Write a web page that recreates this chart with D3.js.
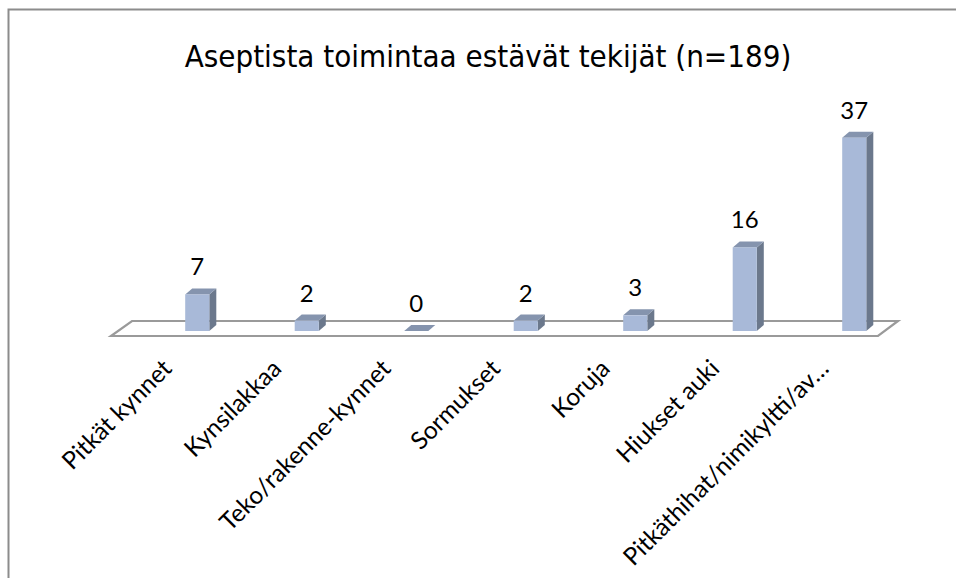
<!DOCTYPE html>
<html>
<head>
<meta charset="utf-8">
<script src="https://cdn.jsdelivr.net/npm/d3@7"></script>
<style>
  body { margin: 0; background: #fff; overflow: hidden; }
  svg { display: block; }
</style>
</head>
<body>
<div id="chart"></div>
<script>
// Data
var categories = ["Pitkät kynnet", "Kynsilakkaa", "Teko/rakenne-kynnet", "Sormukset",
                  "Koruja", "Hiukset auki", "Pitkäthihat/nimikyltti/av…"];
var values = [7, 2, 0, 2, 3, 16, 37];
var chartTitle = "Aseptista toimintaa estävät tekijät (n=189)";

var width = 956,
    height = 578,
    depthX = 7,
    depthY = -6;

var svg = d3.select("#chart").append("svg")
    .attr("width", width)
    .attr("height", height);

// chart area border (only top and left edges are inside the picture)
svg.append("path")
    .attr("d", "M8.5," + height + "V9.5H" + width)
    .attr("fill", "none")
    .attr("stroke", "#8c8c8c")
    .attr("stroke-width", 2);

svg.append("text")
    .attr("x", 488).attr("y", 67)
    .attr("text-anchor", "middle")
    .style("font-family", "'DejaVu Sans Condensed', 'DejaVu Sans', sans-serif")
    .style("font-size", "31px")
    .attr("fill", "#000")
    .text(chartTitle);

var x = d3.scaleBand()
    .domain(categories)
    .range([142.5, 909]);

var y = d3.scaleLinear()
    .domain([0, 40])
    .range([331, 122]);

var barW = x.bandwidth() * 0.22;

/** Floor of the 3D plot */
var x0 = x.range()[0], x1 = x.range()[1], base = y(0);
svg.append("path")
    .attr("d", "M" + (x0 - 31.5) + "," + (base + 5) +
               "L" + (x1 - 31) + "," + (base + 5) +
               "L" + (x1 - 11) + "," + (base - 10) +
               "L" + (x0 - 10.5) + "," + (base - 10) + "Z")
    .attr("fill", "#fff")
    .attr("stroke", "#9a9a9a")
    .attr("stroke-width", 2.2)
    .attr("stroke-linejoin", "miter");

var bar = svg.selectAll(".bar")
    .data(values)
    .enter().append("g")
    .attr("class", "bar")
    .attr("transform", function(d, i) {
        return "translate(" + (x(categories[i]) + x.bandwidth() / 2 - barW / 2) + ",0)";
    });

// side face
bar.append("path")
    .attr("d", function(d) {
        return "M" + barW + "," + y(d) + "l" + depthX + "," + depthY +
               "L" + (barW + depthX) + "," + (base + depthY) + "L" + barW + "," + base + "Z";
    })
    .attr("fill", "#6b788c");

// top face
bar.append("path")
    .attr("d", function(d) {
        return "M0," + y(d) + "l" + depthX + "," + depthY + "h" + barW + "l" + (-depthX) + "," + (-depthY) + "Z";
    })
    .attr("fill", "#8594ae");

// front face
bar.append("rect")
    .attr("x", 0)
    .attr("y", function(d) { return y(d); })
    .attr("width", barW)
    .attr("height", function(d) { return base - y(d); })
    .attr("fill", "#a8b9d8");

// value labels
bar.append("text")
    .attr("x", barW / 2)
    .attr("y", function(d) { return y(d) - 19; })
    .attr("text-anchor", "middle")
    .style("font-family", "Lato, 'Open Sans', sans-serif")
    .style("font-size", "24px")
    .attr("fill", "#000")
    .text(function(d) { return d; });

// category labels, rotated
svg.selectAll(".catLabel")
    .data(categories)
    .enter().append("text")
    .attr("class", "catLabel")
    .attr("transform", function(d) {
        return "translate(" + (x(d) + x.bandwidth() / 2 - 30) + "," + 364 + ") rotate(-45)";
    })
    .attr("text-anchor", "end")
    .attr("dy", "0.35em")
    .style("font-family", "Lato, 'Open Sans', sans-serif")
    .style("font-size", "24.5px")
    .attr("fill", "#000")
    .text(function(d) { return d; });
</script>
</body>
</html>
